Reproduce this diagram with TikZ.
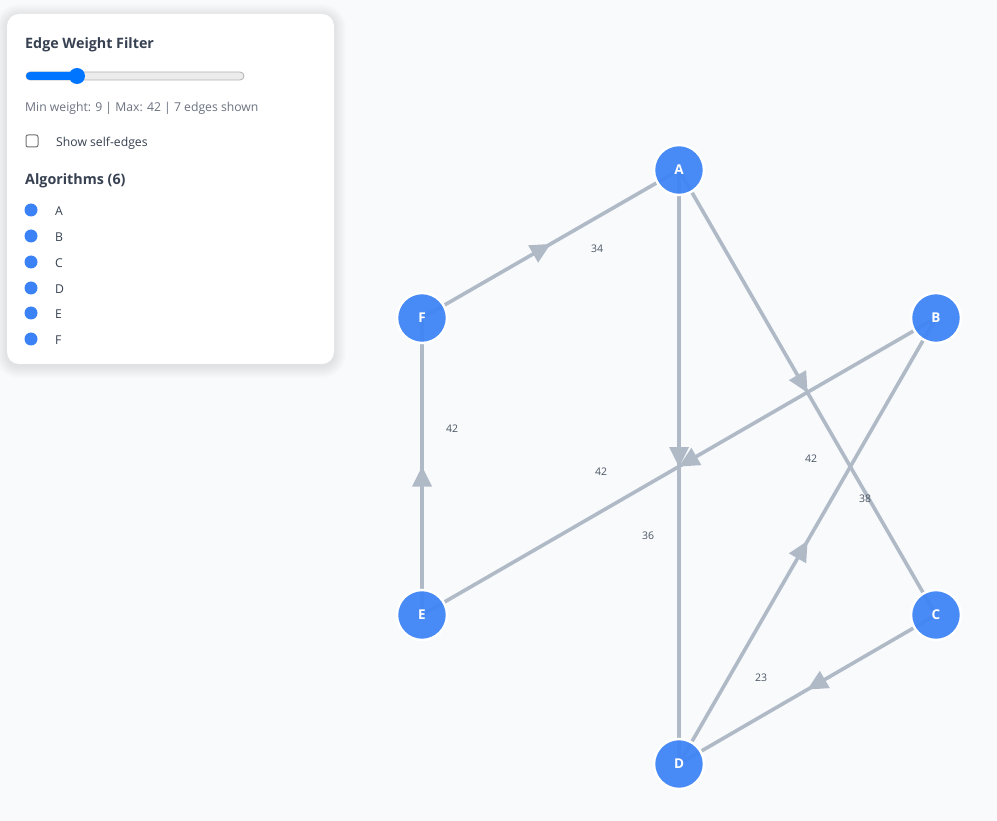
\documentclass[tikz,border=0pt]{standalone}
\usepackage{fontspec}
\setmainfont{Open Sans}
\usetikzlibrary{decorations.markings}
\pgfdeclarelayer{background}
\pgfsetlayers{background,main}
\definecolor{bgc}{HTML}{F8FAFC}
\definecolor{nodec}{HTML}{3B82F6}
\definecolor{edgec}{HTML}{B0BAC7}
\definecolor{lblc}{HTML}{4B5563}
\definecolor{titlec}{HTML}{374151}
\definecolor{mutedc}{HTML}{6B7280}
\definecolor{slidec}{HTML}{0075FF}
\begin{document}
\begin{tikzpicture}[x=1pt,y=-1pt,
  gnode/.style={circle,minimum size=50pt,inner sep=0pt,fill=nodec,fill opacity=0.92,text opacity=1,draw=white,line width=2.5pt,text=white,font=\fontsize{13.5}{15}\selectfont\bfseries},
  gedge/.style={draw=edgec,line width=3.6pt,postaction={decorate},
    decoration={markings,mark=at position 0.5 with {\fill[edgec] (0,0) -- (-20pt,10pt) -- (-20pt,-10pt) -- cycle;}}},
  wlabel/.style={text=lblc,font=\fontsize{10.5}{12}\selectfont,inner sep=0pt},
  ptitle/.style={anchor=west,inner sep=0pt,text=titlec,font=\fontsize{14.3}{16}\selectfont\bfseries},
  ptext/.style={anchor=west,inner sep=0pt,font=\fontsize{12.2}{14}\selectfont},
  dot/.style={circle,fill=nodec,minimum size=13pt,inner sep=0pt}
]
\useasboundingbox (0,0) rectangle (997,821);

% graph nodes
\node[gnode] (A) at (679,170) {A};
\node[gnode] (B) at (936,318) {B};
\node[gnode] (C) at (936,615) {C};
\node[gnode] (D) at (679,764) {D};
\node[gnode] (E) at (422,615) {E};
\node[gnode] (F) at (422,318) {F};

\begin{pgfonlayer}{background}
\fill[bgc] (0,0) rectangle (997,821);
\path[gedge] (F.center) -- (A.center);
\path[gedge] (A.center) -- (D.center);
\path[gedge] (A.center) -- (C.center);
\path[gedge] (B.center) -- (E.center);
\path[gedge] (D.center) -- (B.center);
\path[gedge] (C.center) -- (D.center);
\path[gedge] (E.center) -- (F.center);
\end{pgfonlayer}

% panel shadow
\foreach \s in {1,...,12}{
  \fill[black,opacity=0.006,rounded corners=12pt+\s pt] (7-\s,16-\s) rectangle (334+\s,366+\s);
}
% panel
\node[fill=white,rounded corners=12pt,minimum width=327pt,minimum height=350pt,inner sep=0pt] (panel) at (170.5,189) {};
\node[ptitle] (ttl) at (25,44.5) {Edge Weight Filter};
\draw[fill=gray!15,draw=gray!60,line width=0.8pt,rounded corners=4pt] (26,72) rectangle (244,80);
\fill[slidec,rounded corners=4pt] (26,72) rectangle (80,80);
\node[circle,fill=slidec,minimum size=16pt,inner sep=0pt] (knob) at (77,76) {};
\node[ptext,text=mutedc] (info) at (25,108.5) {Min weight: 9 | Max: 42 | 7 edges shown};
\node[draw=gray!90!black,line width=1pt,fill=white,rounded corners=2pt,minimum size=12pt,inner sep=0pt] (chk) at (32,141) {};
\node[ptext,text=titlec] (chkl) at (56,143.5) {Show self-edges};
\node[ptitle] (alg) at (25,180.5) {Algorithms (6)};
\foreach \n/\yy in {A/211.5,B/237.5,C/263.5,D/289.5,E/314.5,F/340.5}{
  \node[ptext,text=titlec] (leg\n) at (55,\yy) {\n};
}
\foreach \n/\yy in {A/210,B/236,C/262,D/288,E/313,F/339}{
  \node[dot] (dot\n) at (31,\yy) {};
}

% weight labels
\node[wlabel] (w1) at (597,249) {34};
\node[wlabel] (w2) at (452,429) {42};
\node[wlabel] (w3) at (601,472) {42};
\node[wlabel] (w4) at (811,459) {42};
\node[wlabel] (w5) at (865,499) {38};
\node[wlabel] (w6) at (648,536) {36};
\node[wlabel] (w7) at (761,678) {23};
\end{tikzpicture}
\end{document}
